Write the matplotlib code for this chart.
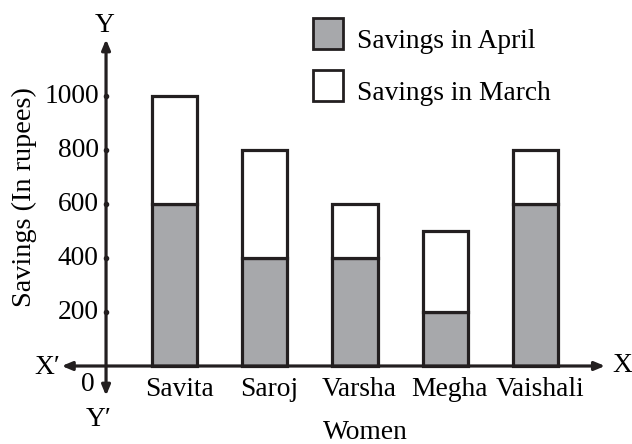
import matplotlib.pyplot as plt
import matplotlib.patches as mpatches

plt.rcParams['font.family'] = ['Liberation Serif', 'DejaVu Serif']

# 数据
women = ['Savita', 'Saroj', 'Varsha', 'Megha', 'Vaishali']
april = [600, 400, 400, 200, 600]
march = [400, 400, 200, 300, 200]   # 叠在 April 上面的部分
yticks = [200, 400, 600, 800, 1000]
legend_labels = ['Savings in April', 'Savings in March']

gray = '#a7a8ab'
ink = '#231f20'

fig = plt.figure(figsize=(6.32, 4.44), dpi=100)
ax = fig.add_axes([0, 0, 1, 1])
# 坐标范围让柱子落在原图对应位置
ax.set_xlim(-1.934, 5.069)
ax.set_ylim(-288.9, 1355.6)
ax.axis('off')

x = list(range(len(women)))
ax.bar(x, april, width=0.5, color=gray, edgecolor=ink, linewidth=2.3, zorder=3)
ax.bar(x, march, width=0.5, bottom=april, color='white', edgecolor=ink,
       linewidth=2.3, zorder=3)

# 坐标轴（带箭头）
yax = -0.759
arrow = dict(arrowstyle='-|>,head_length=0.6,head_width=0.25', color=ink,
             lw=2.3, shrinkA=0, shrinkB=0)
ax.annotate('', xy=(yax, 1210), xytext=(yax, 0), arrowprops=arrow, zorder=4)
ax.annotate('', xy=(yax, -110), xytext=(yax, 0), arrowprops=arrow, zorder=4)
ax.annotate('', xy=(4.77, 0), xytext=(yax, 0), arrowprops=arrow, zorder=4)
ax.annotate('', xy=(-1.25, 0), xytext=(yax, 0), arrowprops=arrow, zorder=4)

fs = 19.8
for t in yticks:
    ax.plot(yax, t, 'o', color=ink, ms=3, zorder=5)
    ax.text(yax - 0.08, t, str(t), ha='right', va='center', fontsize=fs)

for i, name in enumerate(women):
    ax.text(i + 0.05, -88, name, ha='center', va='center', fontsize=fs)

ax.text(yax - 0.2, -70, '0', ha='center', va='center', fontsize=fs)
ax.text(yax - 0.08, -200, 'Y′', ha='center', va='center', fontsize=fs)
ax.text(yax - 0.01, 1260, 'Y', ha='center', va='center', fontsize=fs)
ax.text(-1.41, -5, 'X′', ha='center', va='center', fontsize=fs)
ax.text(4.96, 0, 'X', ha='center', va='center', fontsize=fs)
ax.text(2.12, -245, 'Women', ha='center', va='center', fontsize=fs)
ax.text(-1.66, 624, 'Savings (In rupees)', rotation=90, ha='center',
        va='center', fontsize=20.3)

# 图例（手工画方块）
W, H = 632, 444
for k, (fc, lab) in enumerate(zip([gray, 'white'], legend_labels)):
    top = 18 + 52 * k
    fig.add_artist(mpatches.Rectangle((313 / W, 1 - (top + 31) / H), 30 / W, 31 / H,
                                      transform=fig.transFigure, facecolor=fc,
                                      edgecolor=ink, linewidth=2))
    fig.text(357 / W, 1 - (top + 30) / H, lab, ha='left', va='baseline',
             fontsize=fs)

fig.savefig('out.png', dpi=100)
